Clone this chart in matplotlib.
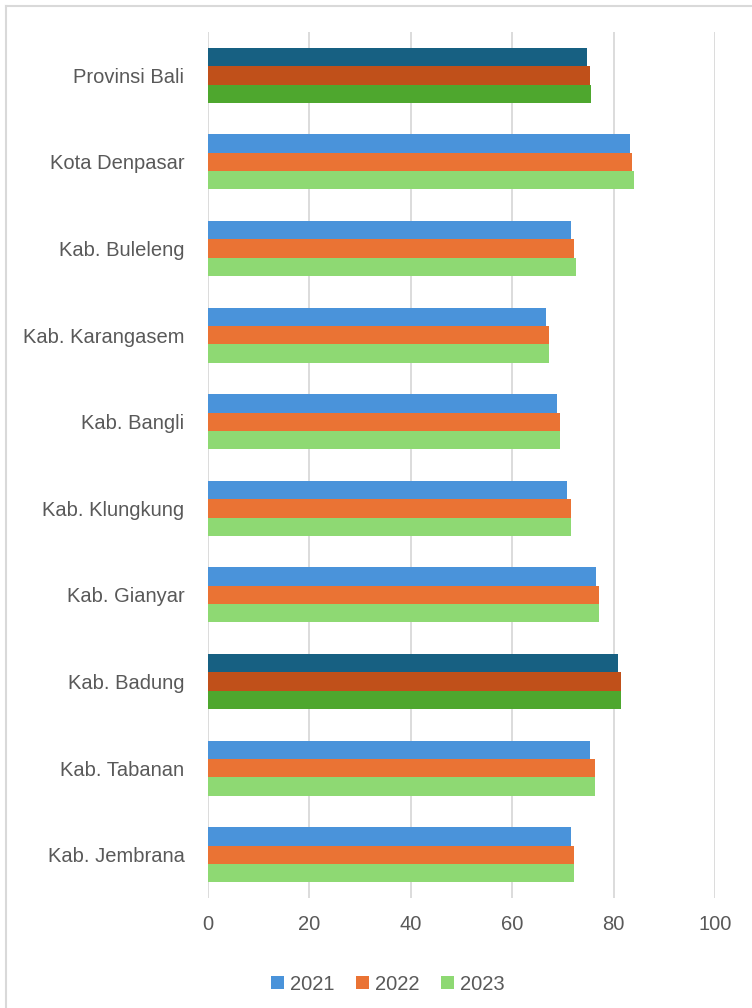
import matplotlib
matplotlib.use("Agg")
import matplotlib.pyplot as plt
from matplotlib.lines import Line2D
from matplotlib.patches import Patch

# categories top to bottom
regions = ["Provinsi Bali", "Kota Denpasar", "Kab. Buleleng", "Kab. Karangasem",
           "Kab. Bangli", "Kab. Klungkung", "Kab. Gianyar", "Kab. Badung",
           "Kab. Tabanan", "Kab. Jembrana"]
years = ["2021", "2022", "2023"]
v2021 = [74.8, 83.3, 71.6, 66.6, 68.8, 70.9, 76.5, 80.9, 75.3, 71.6]
v2022 = [75.4, 83.7, 72.2, 67.3, 69.4, 71.6, 77.2, 81.5, 76.3, 72.2]
v2023 = [75.6, 84.0, 72.6, 67.3, 69.4, 71.6, 77.2, 81.5, 76.3, 72.2]
highlight = ["Provinsi Bali", "Kab. Badung"]

colors = ["#4A93DA", "#EA7334", "#8ED973"]
dark_colors = ["#176082", "#C0501A", "#4EA72E"]
text_col = "#595959"
grid_col = "#D9D9D9"

plt.rcParams['font.family'] = ['Liberation Sans', 'DejaVu Sans']

fig = plt.figure(figsize=(7.52, 10.08), dpi=100)
ax = fig.add_axes([0.2766, 0.1091, 0.6742, 0.8591])

h = 0.212
series = [v2021, v2022, v2023]
for k, vals in enumerate(series):
    for i, (name, v) in enumerate(zip(regions, vals)):
        c = dark_colors[k] if name in highlight else colors[k]
        ax.barh(i + (k - 1) * h, v, height=h, color=c, linewidth=0, zorder=3)

ax.set_xlim(0, 100)
ax.set_ylim(len(regions) - 0.5, -0.5)
ax.set_xticks(range(0, 101, 20))
ax.set_yticks(range(len(regions)))
ax.set_yticklabels(regions)
ax.grid(axis="x", color=grid_col, linewidth=1.3, zorder=0)
ax.tick_params(axis="both", length=0, labelsize=14.5, labelcolor=text_col)
ax.tick_params(axis="y", pad=17)
ax.tick_params(axis="x", pad=12)
for s in ax.spines.values():
    s.set_visible(False)

handles = [Patch(facecolor=c, edgecolor="none") for c in colors]
fig.legend(handles, years, loc="center", bbox_to_anchor=(388 / 752, 1 - 984 / 1008),
           ncol=3, frameon=False, fontsize=14.5, labelcolor=text_col,
           handlelength=0.65, handleheight=0.65, handletextpad=0.3,
           columnspacing=1.05)

# chart-area border (left and top visible)
fig.add_artist(Line2D([5.5 / 752, 5.5 / 752], [0, 1 - 5.5 / 1008],
                      color=grid_col, linewidth=1.5, transform=fig.transFigure))
fig.add_artist(Line2D([5.5 / 752, 1], [1 - 5.5 / 1008, 1 - 5.5 / 1008],
                      color=grid_col, linewidth=1.5, transform=fig.transFigure))

fig.savefig("out.png", dpi=100)
